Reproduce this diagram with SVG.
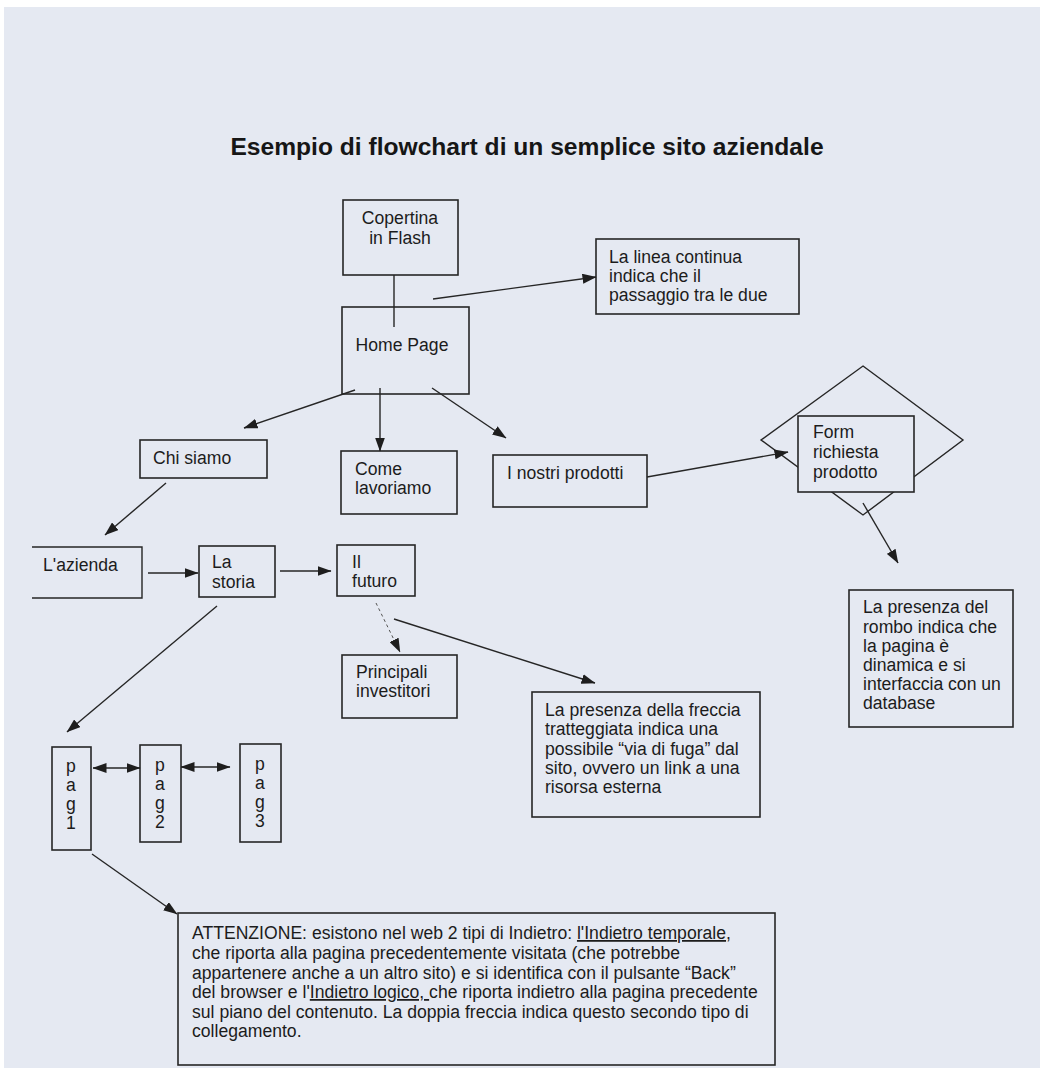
<svg xmlns="http://www.w3.org/2000/svg" width="1044" height="1068" viewBox="0 0 1044 1068">
<style>
.bg{fill:#e5e9f2}
.box{fill:#e5e9f2;stroke:#262626;stroke-width:1.6}
.t{font-family:"Liberation Sans",Arial,sans-serif;font-size:17.6px;fill:#1c1c1c}
.c{text-anchor:middle}
.title{font-family:"Liberation Sans",Arial,sans-serif;font-size:24.6px;font-weight:bold;fill:#161616}
.ln{fill:none;stroke:#262626;stroke-width:1.4}
.arr{marker-end:url(#ah)}
.dbl{marker-start:url(#ah);marker-end:url(#ah)}
.dash{stroke:#555;stroke-width:1;stroke-dasharray:3 3}
.u{text-decoration:underline}
</style>
<defs>
<marker id="ah" viewBox="0 0 14 10" refX="13.5" refY="5" markerWidth="14" markerHeight="10" markerUnits="userSpaceOnUse" orient="auto-start-reverse">
<path d="M0,0 L14,5 L0,10 z" fill="#1e1e1e"/>
</marker>
</defs>
<rect x="0" y="0" width="1044" height="1068" fill="#ffffff"/>
<rect class="bg" x="4" y="7" width="1036" height="1061"/>

<text class="title" x="527" y="155" text-anchor="middle">Esempio di flowchart di un semplice sito aziendale</text>

<g id="copertina"><rect class="box" x="343" y="200" width="115" height="75"/>
<text class="t c"><tspan x="400" y="224">Copertina</tspan><tspan x="400" y="244">in Flash</tspan></text></g>

<g id="homepage"><rect class="box" x="342" y="307" width="127" height="87"/>
<text class="t c" x="402" y="351">Home Page</text></g>

<g id="nota-linea"><rect class="box" x="596" y="239" width="203" height="75"/>
<text class="t"><tspan x="609" y="263">La linea continua</tspan><tspan x="609" y="282">indica che il</tspan><tspan x="609" y="301">passaggio tra le due</tspan></text></g>

<g id="chisiamo"><rect class="box" x="140" y="440" width="127" height="38"/>
<text class="t" x="153" y="464">Chi siamo</text></g>

<g id="comelavoriamo"><rect class="box" x="341" y="451" width="116" height="63"/>
<text class="t"><tspan x="355" y="475">Come</tspan><tspan x="355" y="494">lavoriamo</tspan></text></g>

<g id="prodotti"><rect class="box" x="493" y="455" width="154" height="52"/>
<text class="t" x="507" y="479">I nostri prodotti</text></g>

<g id="form"><path class="ln" d="M863,366 L963,440 L863,515 L761,440 Z" stroke-width="1.2"/>
<rect class="box" x="798" y="416" width="116" height="76"/>
<text class="t"><tspan x="813" y="438">Form</tspan><tspan x="813" y="458">richiesta</tspan><tspan x="813" y="478">prodotto</tspan></text></g>

<g id="nota-rombo"><rect class="box" x="849" y="590" width="164" height="137"/>
<text class="t"><tspan x="863" y="613">La presenza del</tspan><tspan x="863" y="633">rombo indica che</tspan><tspan x="863" y="652">la pagina è</tspan><tspan x="863" y="671">dinamica e si</tspan><tspan x="863" y="690">interfaccia con un</tspan><tspan x="863" y="709">database</tspan></text></g>

<g id="azienda"><path class="ln" d="M32,547 H142 V598 H32" stroke-width="1.6"/>
<text class="t" x="43" y="571">L'azienda</text></g>

<g id="storia"><rect class="box" x="199" y="546" width="76" height="51"/>
<text class="t"><tspan x="212" y="568">La</tspan><tspan x="212" y="588">storia</tspan></text></g>

<g id="futuro"><rect class="box" x="337" y="545" width="78" height="51"/>
<text class="t"><tspan x="352" y="568">Il</tspan><tspan x="352" y="587">futuro</tspan></text></g>

<g id="investitori"><rect class="box" x="342" y="655" width="115" height="63"/>
<text class="t"><tspan x="356" y="678">Principali</tspan><tspan x="356" y="697">investitori</tspan></text></g>

<g id="nota-freccia"><rect class="box" x="532" y="692" width="228" height="125"/>
<text class="t"><tspan x="545" y="716">La presenza della freccia</tspan><tspan x="545" y="735">tratteggiata indica una</tspan><tspan x="545" y="755">possibile “via di fuga” dal</tspan><tspan x="545" y="774">sito, ovvero un link a una</tspan><tspan x="545" y="793">risorsa esterna</tspan></text></g>

<g id="pag1"><rect class="box" x="52" y="747" width="39" height="103"/>
<text class="t c"><tspan x="71" y="772">p</tspan><tspan x="71" y="791">a</tspan><tspan x="71" y="810">g</tspan><tspan x="71" y="829">1</tspan></text></g>

<g id="pag2"><rect class="box" x="140" y="745" width="41" height="97"/>
<text class="t c"><tspan x="160" y="771">p</tspan><tspan x="160" y="790">a</tspan><tspan x="160" y="809">g</tspan><tspan x="160" y="828">2</tspan></text></g>

<g id="pag3"><rect class="box" x="240" y="744" width="41" height="98"/>
<text class="t c"><tspan x="260" y="770">p</tspan><tspan x="260" y="789">a</tspan><tspan x="260" y="808">g</tspan><tspan x="260" y="827">3</tspan></text></g>

<g id="nota-attenzione"><rect class="box" x="178" y="913" width="597" height="152"/>
<text class="t"><tspan x="192" y="939">ATTENZIONE: esistono nel web 2 tipi di Indietro: <tspan class="u">l'Indietro temporale</tspan>,</tspan><tspan x="192" y="959">che riporta alla pagina precedentemente visitata (che potrebbe</tspan><tspan x="192" y="979">appartenere anche a un altro sito) e si identifica con il pulsante “Back”</tspan><tspan x="192" y="998">del browser e l'<tspan class="u">Indietro logico, </tspan>che riporta indietro alla pagina precedente</tspan><tspan x="192" y="1018">sul piano del contenuto. La doppia freccia indica questo secondo tipo di</tspan><tspan x="192" y="1037">collegamento.</tspan></text></g>

<g id="connectors">
<line class="ln" x1="394" y1="275" x2="394" y2="327"/>
<line class="ln arr" x1="433" y1="299" x2="596" y2="277"/>
<line class="ln arr" x1="355" y1="390" x2="244" y2="428"/>
<line class="ln arr" x1="380" y1="388" x2="380" y2="451"/>
<line class="ln arr" x1="432" y1="388" x2="506" y2="438"/>
<line class="ln arr" x1="166" y1="483" x2="105" y2="535"/>
<line class="ln arr" x1="148" y1="573" x2="198" y2="573"/>
<line class="ln arr" x1="280" y1="571" x2="331" y2="571"/>
<line class="ln arr" x1="217" y1="606" x2="67" y2="732"/>
<line class="ln arr dash" x1="376" y1="603" x2="400" y2="652"/>
<line class="ln arr" x1="394" y1="619" x2="595" y2="683"/>
<line class="ln arr" x1="647" y1="477" x2="788" y2="452"/>
<line class="ln arr" x1="863" y1="503" x2="898" y2="563"/>
<line class="ln dbl" x1="93" y1="768" x2="140" y2="768"/>
<line class="ln dbl" x1="181" y1="767" x2="230" y2="767"/>
<line class="ln arr" x1="92" y1="854" x2="177" y2="914"/>
</g>
</svg>
